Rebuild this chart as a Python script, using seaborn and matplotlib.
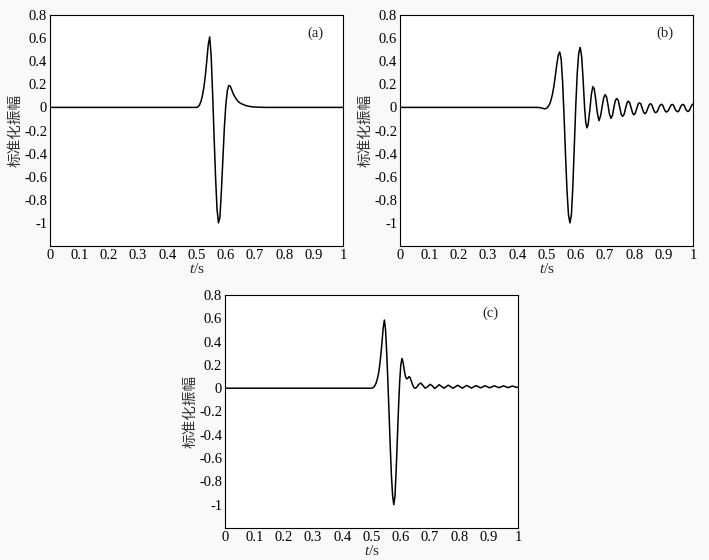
import matplotlib
matplotlib.use("Agg")
import matplotlib.pyplot as plt
import seaborn as sns
import pandas as pd

# ---------------- data ----------------
t_a = [0.0, 0.50, 0.505, 0.51, 0.515, 0.52, 0.525, 0.53, 0.535, 0.54, 0.545,
       0.55, 0.555, 0.56, 0.565, 0.57, 0.575, 0.58, 0.585, 0.59, 0.595, 0.60,
       0.605, 0.61, 0.615, 0.62, 0.625, 0.63, 0.635, 0.64, 0.645, 0.65, 0.66,
       0.67, 0.68, 0.69, 0.70, 0.72, 0.74, 1.0]
y_a = [0.0, 0.0, 0.005, 0.02, 0.05, 0.10, 0.17, 0.27, 0.40, 0.54, 0.61,
       0.45, 0.12, -0.25, -0.60, -0.88, -1.00, -0.95, -0.72, -0.45, -0.18, 0.02,
       0.14, 0.19, 0.185, 0.155, 0.12, 0.095, 0.075, 0.058, 0.045, 0.036, 0.024,
       0.015, 0.009, 0.005, 0.003, 0.001, 0.0, 0.0]

t_b = [0.0, 0.47, 0.48, 0.49, 0.495, 0.50, 0.505, 0.51, 0.515, 0.52, 0.525,
       0.53, 0.535, 0.54, 0.545, 0.55, 0.555, 0.56, 0.565, 0.57, 0.575, 0.58,
       0.585, 0.59, 0.595, 0.60, 0.605, 0.61, 0.615, 0.62, 0.625, 0.63, 0.634,
       0.638, 0.642, 0.648, 0.653, 0.658, 0.663, 0.668, 0.673, 0.679, 0.685,
       0.69, 0.695, 0.70, 0.705, 0.71, 0.715, 0.72, 0.725, 0.73, 0.735, 0.74,
       0.745, 0.75, 0.755, 0.76, 0.765, 0.77, 0.775, 0.779, 0.784, 0.789,
       0.794, 0.798, 0.803, 0.808, 0.813, 0.817, 0.822, 0.827, 0.832, 0.836,
       0.841, 0.846, 0.851, 0.855, 0.860, 0.864, 0.869, 0.873, 0.878, 0.883,
       0.888, 0.892, 0.897, 0.901, 0.906, 0.910, 0.915, 0.920, 0.925, 0.929,
       0.934, 0.938, 0.943, 0.947, 0.952, 0.956, 0.961, 0.965, 0.970, 0.974,
       0.979, 0.983, 0.988, 0.992, 0.996, 1.0]
y_b = [0.0, 0.0, -0.003, -0.010, -0.012, -0.008, 0.005, 0.025, 0.06, 0.11, 0.18,
       0.27, 0.37, 0.45, 0.48, 0.42, 0.22, -0.08, -0.42, -0.72, -0.93, -1.00,
       -0.93, -0.68, -0.33, 0.02, 0.30, 0.47, 0.52, 0.44, 0.24, 0.0, -0.13,
       -0.177, -0.15, -0.02, 0.11, 0.18, 0.16, 0.07, -0.04, -0.115, -0.07,
       0.01, 0.08, 0.11, 0.09, 0.02, -0.06, -0.095, -0.07, 0.0, 0.06, 0.077,
       0.06, 0.0, -0.06, -0.078, -0.06, -0.005, 0.04, 0.055, 0.04, -0.005,
       -0.05, -0.065, -0.05, -0.01, 0.03, 0.04, 0.03, -0.01, -0.045, -0.055,
       -0.04, -0.005, 0.025, 0.032, 0.02, -0.01, -0.04, -0.046, -0.035, -0.005,
       0.02, 0.027, 0.018, -0.01, -0.035, -0.04, -0.03, -0.005, 0.02, 0.026,
       0.018, -0.01, -0.03, -0.038, -0.03, -0.005, 0.02, 0.026, 0.018, -0.01,
       -0.03, -0.036, -0.025, 0.0, 0.02, 0.03]

t_c = [0.0, 0.50, 0.505, 0.51, 0.515, 0.52, 0.525, 0.53, 0.535, 0.54, 0.544,
       0.548, 0.552, 0.556, 0.56, 0.564, 0.568, 0.572, 0.576, 0.58, 0.584,
       0.588, 0.592, 0.596, 0.60, 0.604, 0.608, 0.612, 0.616, 0.62, 0.624,
       0.628, 0.632, 0.636, 0.64, 0.645, 0.65, 0.655, 0.66, 0.668, 0.675,
       0.683, 0.69, 0.70, 0.708, 0.715, 0.723, 0.731, 0.739, 0.747, 0.754,
       0.762, 0.77, 0.778, 0.786, 0.794, 0.802, 0.81, 0.817, 0.825, 0.833,
       0.841, 0.849, 0.857, 0.865, 0.872, 0.88, 0.887, 0.895, 0.903, 0.911,
       0.919, 0.927, 0.935, 0.943, 0.95, 0.958, 0.966, 0.974, 0.981, 0.989,
       0.995, 1.0]
y_c = [0.0, 0.0, 0.003, 0.015, 0.04, 0.08, 0.14, 0.24, 0.37, 0.52, 0.585,
       0.50, 0.30, 0.05, -0.22, -0.50, -0.75, -0.92, -1.00, -0.93, -0.72,
       -0.45, -0.18, 0.05, 0.20, 0.255, 0.22, 0.15, 0.10, 0.08, 0.085,
       0.10, 0.09, 0.06, 0.03, 0.005, 0.0, 0.01, 0.03, 0.045, 0.025,
       0.0, 0.01, 0.033, 0.02, -0.003, 0.012, 0.03, 0.015, 0.0, 0.012,
       0.026, 0.013, 0.0, 0.012, 0.025, 0.013, 0.0, 0.012, 0.024, 0.013,
       0.001, 0.012, 0.022, 0.013, 0.003, 0.012, 0.021, 0.013, 0.003, 0.012,
       0.02, 0.013, 0.004, 0.012, 0.02, 0.013, 0.005, 0.012, 0.019, 0.012,
       0.006, 0.01]

panel_labels = ["(a)", "(b)", "(c)"]
x_ticks = [0, 0.1, 0.2, 0.3, 0.4, 0.5, 0.6, 0.7, 0.8, 0.9, 1.0]
x_ticklabels = ["0", "0.1", "0.2", "0.3", "0.4", "0.5", "0.6", "0.7", "0.8", "0.9", "1"]
y_ticks = [-1.0, -0.8, -0.6, -0.4, -0.2, 0.0, 0.2, 0.4, 0.6, 0.8]
y_ticklabels = ["-1", "-0.8", "-0.6", "-0.4", "-0.2", "0", "0.2", "0.4", "0.6", "0.8"]
y_label = "标准化振幅"
x_label = r"$t$/s"

# ---------------- style ----------------
sns.set_style("white")
plt.rcParams["font.family"] = ["Liberation Serif", "Noto Sans CJK SC", "DejaVu Sans"]
plt.rcParams["mathtext.fontset"] = "custom"
plt.rcParams["mathtext.it"] = "Liberation Serif:italic"
plt.rcParams["mathtext.rm"] = "Liberation Serif"
plt.rcParams["axes.unicode_minus"] = False

fig = plt.figure(figsize=(7.09, 5.60), dpi=100)
fig.patch.set_facecolor("#f9f9f9")

W, H = 709.0, 560.0
rects = [
    (50 / W, 1 - 246 / H, 293 / W, 231 / H),
    (400 / W, 1 - 246 / H, 293 / W, 231 / H),
    (225 / W, 1 - 528 / H, 293 / W, 233 / H),
]
series = [(t_a, y_a), (t_b, y_b), (t_c, y_c)]

for rect, (tt, yy), lab in zip(rects, series, panel_labels):
    ax = fig.add_axes(rect)
    ax.set_facecolor("white")
    df = pd.DataFrame({"t": tt, "amp": yy})
    sns.lineplot(data=df, x="t", y="amp", ax=ax, color="black", linewidth=1.1,
                 estimator=None, sort=False)
    ax.set_xlim(0, 1)
    ax.set_ylim(-1.2, 0.8)
    ax.set_xticks(x_ticks)
    ax.set_xticklabels(x_ticklabels)
    ax.set_yticks(y_ticks)
    ax.set_yticklabels(y_ticklabels)
    ax.tick_params(direction="in", length=3, width=0.8, labelsize=10.5,
                   colors="black", pad=2, top=False, right=False)
    for s in ax.spines.values():
        s.set_color("black")
        s.set_linewidth(0.8)
    ax.set_xlabel(x_label, fontsize=11, labelpad=0)
    ax.set_ylabel(y_label, fontsize=10.5, labelpad=1,
                  family=["Noto Sans CJK SC", "DejaVu Sans"], color="#333333")
    ax.text(0.905, 0.64, lab, fontsize=10.5, ha="center", va="center",
            transform=ax.transData)

fig.savefig("out.png", dpi=100, facecolor=fig.get_facecolor())
